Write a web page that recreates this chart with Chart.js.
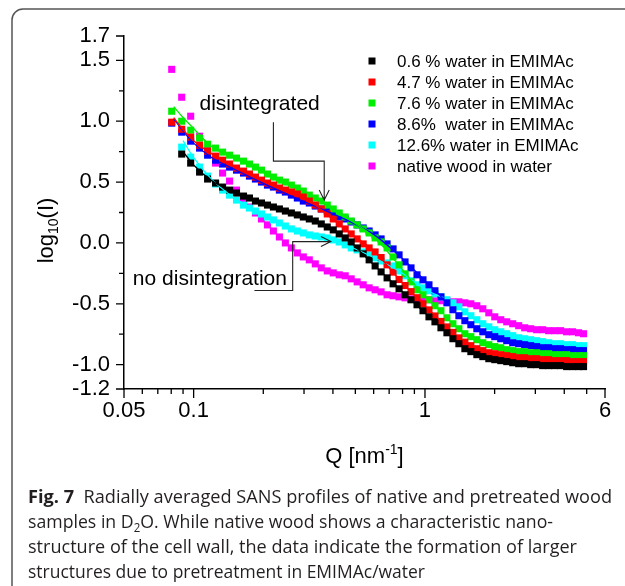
<!DOCTYPE html>
<html>
<head>
<meta charset="utf-8">
<script src="https://cdn.jsdelivr.net/npm/chart.js@4.4.0/dist/chart.umd.min.js"></script>
<style>
html,body{margin:0;padding:0;background:#fff;width:625px;height:586px;overflow:hidden}
#c{position:absolute;left:0;top:0}
</style>
</head>
<body>
<canvas id="c" width="625" height="586"></canvas>
<script>
// ---------------- data ----------------
const qValues = [0.0804, 0.0888, 0.0971, 0.1061, 0.1149, 0.1244, 0.1334, 0.1430, 0.1532, 0.1643,
  0.1743, 0.1850, 0.1964, 0.2085, 0.2212, 0.2348, 0.2492, 0.2645, 0.2807, 0.2979,
  0.3162, 0.3356, 0.3562, 0.3781, 0.4013, 0.4259, 0.4520, 0.4798, 0.5092, 0.5405,
  0.5736, 0.6088, 0.6462, 0.6858, 0.7279, 0.7726, 0.8200, 0.8703, 0.9237, 0.9803,
  1.0405, 1.1043, 1.1721, 1.2440, 1.3204, 1.4014, 1.4874, 1.5787, 1.6755, 1.7783,
  1.8874, 2.0033, 2.1262, 2.2567, 2.3951, 2.5421, 2.6981, 2.8637, 3.0394, 3.2259,
  3.4238, 3.6339, 3.8569, 4.0936, 4.3448, 4.6114, 4.8466];

const water06 = [null, 0.730, 0.656, 0.582, 0.525, 0.492, 0.459, 0.434, 0.410, 0.385,
  0.369, 0.344, 0.328, 0.311, 0.295, 0.279, 0.262, 0.246, 0.230, 0.213,
  0.197, 0.180, 0.156, 0.131, 0.107, 0.074, 0.041, 0.008, -0.041, -0.090,
  -0.139, -0.189, -0.238, -0.287, -0.336, -0.377, -0.426, -0.467, -0.508, -0.557,
  -0.607, -0.648, -0.697, -0.738, -0.787, -0.828, -0.869, -0.893, -0.918, -0.934,
  -0.951, -0.959, -0.967, -0.975, -0.984, -0.992, -0.992, -1.000, -1.000, -1.008,
  -1.008, -1.008, -1.008, -1.016, -1.016, -1.016, -1.016];

const water47 = [0.992, 0.934, 0.869, 0.803, 0.754, 0.713, 0.680, 0.648, 0.615, 0.590,
  0.566, 0.541, 0.516, 0.492, 0.475, 0.451, 0.434, 0.418, 0.402, 0.377,
  0.344, 0.311, 0.279, 0.238, 0.197, 0.156, 0.115, 0.074, 0.033, -0.008,
  -0.041, -0.074, -0.120, -0.180, -0.240, -0.300, -0.350, -0.400, -0.450, -0.500,
  -0.550, -0.600, -0.645, -0.690, -0.735, -0.780, -0.815, -0.844, -0.869, -0.885,
  -0.902, -0.910, -0.918, -0.926, -0.934, -0.943, -0.943, -0.951, -0.951, -0.959,
  -0.959, -0.967, -0.967, -0.967, -0.975, -0.975, -0.975];

const water76 = [1.082, 1.000, 0.926, 0.861, 0.811, 0.779, 0.746, 0.721, 0.697, 0.672,
  0.648, 0.623, 0.598, 0.566, 0.541, 0.516, 0.500, 0.475, 0.451, 0.426,
  0.393, 0.369, 0.344, 0.311, 0.279, 0.246, 0.213, 0.180, 0.148, 0.115,
  0.082, 0.041, 0.008, -0.041, -0.115, -0.180, -0.254, -0.320, -0.385, -0.426,
  -0.467, -0.516, -0.557, -0.615, -0.664, -0.705, -0.746, -0.770, -0.795, -0.820,
  -0.836, -0.852, -0.861, -0.877, -0.885, -0.893, -0.893, -0.902, -0.902, -0.910,
  -0.910, -0.918, -0.918, -0.918, -0.926, -0.926, -0.926];

const water86 = [0.984, 0.910, 0.836, 0.779, 0.721, 0.680, 0.648, 0.623, 0.598, 0.574,
  0.549, 0.525, 0.500, 0.475, 0.459, 0.434, 0.418, 0.393, 0.369, 0.344,
  0.328, 0.303, 0.279, 0.262, 0.238, 0.213, 0.197, 0.172, 0.148, 0.123,
  0.098, 0.066, 0.033, -0.008, -0.049, -0.098, -0.156, -0.205, -0.262, -0.303,
  -0.344, -0.393, -0.443, -0.492, -0.549, -0.598, -0.639, -0.672, -0.705, -0.730,
  -0.754, -0.770, -0.787, -0.803, -0.820, -0.828, -0.836, -0.844, -0.852, -0.861,
  -0.861, -0.869, -0.869, -0.877, -0.877, -0.885, -0.885];

const water126 = [null, 0.787, 0.705, 0.623, 0.549, 0.484, 0.434, 0.393, 0.352, 0.311,
  0.287, 0.262, 0.238, 0.213, 0.189, 0.164, 0.139, 0.115, 0.098, 0.082,
  0.066, 0.057, 0.049, 0.041, 0.025, 0.008, -0.016, -0.041, -0.057, -0.074,
  -0.098, -0.123, -0.148, -0.164, -0.189, -0.230, -0.270, -0.311, -0.344, -0.369,
  -0.393, -0.418, -0.443, -0.467, -0.492, -0.525, -0.566, -0.598, -0.631, -0.664,
  -0.689, -0.713, -0.730, -0.746, -0.762, -0.779, -0.787, -0.795, -0.803, -0.811,
  -0.820, -0.828, -0.828, -0.836, -0.836, -0.844, -0.844];

const nativeWood = [1.426, 1.197, 1.041, 0.877, 0.762, 0.656, 0.574, 0.508, 0.434, 0.361,
  0.295, 0.246, 0.197, 0.148, 0.098, 0.049, 0.000, -0.041, -0.082, -0.115,
  -0.139, -0.172, -0.205, -0.230, -0.246, -0.262, -0.270, -0.295, -0.320, -0.344,
  -0.369, -0.385, -0.402, -0.426, -0.434, -0.443, -0.451, -0.459, -0.467, -0.467,
  -0.467, -0.475, -0.475, -0.475, -0.484, -0.484, -0.492, -0.500, -0.516, -0.541,
  -0.574, -0.607, -0.631, -0.648, -0.664, -0.680, -0.697, -0.705, -0.713, -0.713,
  -0.721, -0.721, -0.721, -0.730, -0.730, -0.738, -0.746];

// model fit curves (thin lines)
const fitQ = [0.082, 0.09, 0.1, 0.12, 0.15, 0.2, 0.3, 0.45, 0.6, 0.8, 1.0, 1.2];
const fit06  = [null, 0.75, 0.64, 0.51, 0.42, 0.32, 0.21, 0.045, -0.18, -0.40, -0.575, -0.71];
const fit47  = [1.03, 0.93, 0.84, 0.73, 0.625, 0.51, 0.375, 0.115, -0.066, -0.33, -0.517, -0.66];
const fit76  = [1.12, 1.03, 0.94, 0.79, 0.70, 0.59, 0.425, 0.215, 0.05, -0.22, -0.44, -0.575];
const fit86  = [1.02, 0.92, 0.82, 0.70, 0.605, 0.49, 0.34, 0.195, 0.07, -0.13, -0.31, -0.46];
const fit126 = [null, 0.84, 0.70, 0.52, 0.37, 0.23, 0.08, -0.015, -0.12, -0.25, -0.38, -0.45];

const seriesLabels = ['0.6 % water in EMIMAc', '4.7 % water in EMIMAc', '7.6 % water in EMIMAc',
  '8.6%  water in EMIMAc', '12.6% water in EMIMAc', 'native wood in water'];
const seriesColors = ['#000000', '#ff0000', '#00ee00', '#0000ff', '#00ffff', '#ff00ff'];
const seriesValues = [water06, water47, water76, water86, water126, nativeWood];
const fitValues = [fit06, fit47, fit76, fit86, fit126, null];

// axes
const xTickValues = [0.05, 0.06, 0.07, 0.08, 0.09, 0.1, 0.2, 0.3, 0.4, 0.5, 0.6, 0.7, 0.8, 0.9, 1, 2, 3, 4, 5, 6];
const xLabelValues = [0.05, 0.1, 1, 6];
const xLabelTexts = ['0.05', '0.1', '1', '6'];
const yTickValues = [-1.2, -1.0, -0.75, -0.5, -0.25, 0, 0.25, 0.5, 0.75, 1.0, 1.25, 1.5, 1.7];
const yLabelValues = [-1.2, -1.0, -0.5, 0, 0.5, 1.0, 1.5, 1.7];
const yLabelTexts = ['-1.2', '-1.0', '-0.5', '0.0', '0.5', '1.0', '1.5', '1.7'];

// annotations (data coordinates)
const annotations = [
  { text: 'disintegrated', q: 0.106, v: 1.139,
    path: [[0.2212, 0.992], [0.2212, 0.672], [0.3668, 0.672], [0.3668, 0.352]], head: 'down' },
  { text: 'no disintegration', q: 0.0546, v: -0.295,
    path: [[0.1831, -0.391], [0.268, -0.391], [0.268, 0.011], [0.392, 0.011]], head: 'right' }
];

// caption
const captionLines = [
  [{ t: 'Fig. 7', b: true }, { t: '  Radially averaged SANS profiles of native and pretreated wood' }],
  [{ t: 'samples in D' }, { t: '2', sub: true }, { t: 'O. While native wood shows a characteristic nano-' }],
  [{ t: 'structure of the cell wall, the data indicate the formation of larger' }],
  [{ t: 'structures due to pretreatment in EMIMAc/water' }]
];
const captionWidths = [584, 525, 549, 397];
const captionBaselines = [503, 528, 553, 578];

// ---------------- chart ----------------
const FONT = '"Liberation Sans", Arial, sans-serif';
const CAPFONT = '"Open Sans", "Noto Sans", sans-serif';

const datasets = [];
seriesValues.forEach((vals, s) => {
  datasets.push({
    label: seriesLabels[s],
    data: qValues.map((q, i) => ({ x: q, y: vals[i] })).filter(p => p.y !== null),
    showLine: false,
    pointStyle: 'rect',
    pointRadius: 5,
    pointHoverRadius: 5,
    borderWidth: 0,
    backgroundColor: seriesColors[s],
    borderColor: seriesColors[s],
    order: 2
  });
});
fitValues.forEach((vals, s) => {
  if (!vals) return;
  datasets.push({
    label: 'fit ' + seriesLabels[s],
    isFit: true,
    data: fitQ.map((q, i) => ({ x: q, y: vals[i] })).filter(p => p.y !== null),
    showLine: true,
    pointRadius: 0,
    borderWidth: 1.3,
    borderColor: seriesColors[s],
    backgroundColor: seriesColors[s],
    cubicInterpolationMode: 'monotone',
    fill: false,
    order: 1
  });
});

function near(a, b) { return Math.abs(a - b) < 1e-6; }

const decor = {
  id: 'decor',
  afterDraw(chart) {
    const ctx = chart.ctx;
    const xs = chart.scales.x, ys = chart.scales.y;
    ctx.save();

    // frame
    ctx.strokeStyle = '#555';
    ctx.lineWidth = 1.5;
    ctx.beginPath();
    ctx.moveTo(12, 586);
    ctx.lineTo(12, 20);
    ctx.arcTo(12, 9, 23, 9, 11);
    ctx.lineTo(625, 9);
    ctx.stroke();

    // tick marks
    ctx.strokeStyle = '#000';
    ctx.lineWidth = 1.3;
    ctx.beginPath();
    xTickValues.forEach(v => {
      const px = xs.getPixelForValue(v);
      const major = xLabelValues.some(m => near(m, v));
      ctx.moveTo(px, ys.bottom);
      ctx.lineTo(px, ys.bottom + (major ? 9 : 5));
    });
    yTickValues.forEach(v => {
      const py = ys.getPixelForValue(v);
      const major = yLabelValues.some(m => near(m, v));
      ctx.moveTo(xs.left, py);
      ctx.lineTo(xs.left - (major ? 8 : 5), py);
    });
    ctx.stroke();

    // axis titles
    ctx.fillStyle = '#000';
    ctx.textBaseline = 'alphabetic';
    ctx.save();
    ctx.translate(53, (ys.top + ys.bottom) / 2 + 18);
    ctx.rotate(-Math.PI / 2);
    ctx.font = '22px ' + FONT;
    const wLog = ctx.measureText('log').width;
    const wI = ctx.measureText('(I)').width;
    ctx.font = '14px ' + FONT;
    const w10 = ctx.measureText('10').width;
    let x0 = -(wLog + w10 + wI) / 2;
    ctx.font = '22px ' + FONT;
    ctx.fillText('log', x0, 0);
    ctx.font = '14px ' + FONT;
    ctx.fillText('10', x0 + wLog, 5);
    ctx.font = '22px ' + FONT;
    ctx.fillText('(I)', x0 + wLog + w10, 0);
    ctx.restore();

    ctx.font = '22px ' + FONT;
    const wQ = ctx.measureText('Q [nm').width;
    const wB = ctx.measureText(']').width;
    ctx.font = '14px ' + FONT;
    const wE = ctx.measureText('-1').width;
    let xt = (xs.left + xs.right) / 2 - (wQ + wE + wB) / 2;
    const yt = 463;
    ctx.font = '22px ' + FONT;
    ctx.fillText('Q [nm', xt, yt);
    ctx.font = '14px ' + FONT;
    ctx.fillText('-1', xt + wQ, yt - 9);
    ctx.font = '22px ' + FONT;
    ctx.fillText(']', xt + wQ + wE, yt);

    // legend
    ctx.font = '17px ' + FONT;
    ctx.textBaseline = 'middle';
    let li = 0;
    chart.data.datasets.forEach(ds => {
      if (ds.isFit) return;
      const ly = 61 + 21 * li;
      ctx.fillStyle = ds.backgroundColor;
      ctx.fillRect(372 - 3.5, ly - 3.5, 7, 7);
      ctx.fillStyle = '#000';
      ctx.fillText(ds.label, 397, ly + 1);
      li++;
    });

    // annotations
    ctx.strokeStyle = '#222';
    ctx.lineWidth = 1.1;
    ctx.font = '21px ' + FONT;
    ctx.textBaseline = 'middle';
    annotations.forEach(a => {
      ctx.fillStyle = '#000';
      ctx.fillText(a.text, xs.getPixelForValue(a.q), ys.getPixelForValue(a.v));
      ctx.beginPath();
      a.path.forEach((p, i) => {
        const px = xs.getPixelForValue(p[0]), py = ys.getPixelForValue(p[1]);
        if (i === 0) ctx.moveTo(px, py); else ctx.lineTo(px, py);
      });
      const last = a.path[a.path.length - 1];
      const tx = xs.getPixelForValue(last[0]), ty = ys.getPixelForValue(last[1]);
      if (a.head === 'down') {
        ctx.moveTo(tx - 5, ty - 10); ctx.lineTo(tx, ty); ctx.lineTo(tx + 5, ty - 10);
      } else {
        ctx.moveTo(tx - 10, ty - 5); ctx.lineTo(tx, ty); ctx.lineTo(tx - 10, ty + 5);
      }
      ctx.stroke();
    });

    // caption
    ctx.textBaseline = 'alphabetic';
    ctx.fillStyle = '#231f20';
    captionLines.forEach((segs, li2) => {
      let total = 0;
      const fonts = segs.map(s => (s.b ? 'bold ' : '') + (s.sub ? '12px ' : '18.5px ') + CAPFONT);
      segs.forEach((s, k) => { ctx.font = fonts[k]; total += ctx.measureText(s.t).width; });
      const sx = captionWidths[li2] / total;
      ctx.save();
      ctx.translate(28, captionBaselines[li2]);
      ctx.scale(sx, 1);
      let cx = 0;
      segs.forEach((s, k) => {
        ctx.font = fonts[k];
        ctx.fillText(s.t, cx, s.sub ? 4 : 0);
        cx += ctx.measureText(s.t).width;
      });
      ctx.restore();
    });

    ctx.restore();
  }
};

new Chart(document.getElementById('c'), {
  type: 'scatter',
  data: { datasets },
  options: {
    responsive: false,
    animation: false,
    events: [],
    layout: { padding: { left: 0, top: 36, right: 20, bottom: 137 } },
    plugins: { legend: { display: false }, tooltip: { enabled: false }, title: { display: false } },
    scales: {
      x: {
        type: 'logarithmic',
        min: 0.05, max: 6,
        afterBuildTicks: (scale) => { scale.ticks = xTickValues.map(v => ({ value: v })); },
        afterFit: (scale) => { scale.height = 60; },
        grid: { display: false, drawTicks: false },
        border: { display: true, color: '#000', width: 1.5 },
        ticks: {
          autoSkip: false, maxRotation: 0, minRotation: 0, padding: 9,
          color: '#000', font: { family: FONT, size: 22 },
          callback: (value) => {
            const k = xLabelValues.findIndex(m => near(m, value));
            return k >= 0 ? xLabelTexts[k] : '';
          }
        }
      },
      y: {
        type: 'linear',
        min: -1.2, max: 1.7,
        afterBuildTicks: (scale) => { scale.ticks = yTickValues.map(v => ({ value: v })); },
        afterFit: (scale) => { scale.width = 124; },
        grid: { display: false, drawTicks: false },
        border: { display: true, color: '#000', width: 1.5 },
        ticks: {
          autoSkip: false, padding: 14,
          color: '#000', font: { family: FONT, size: 22 },
          callback: (value) => {
            const k = yLabelValues.findIndex(m => near(m, value));
            return k >= 0 ? yLabelTexts[k] : '';
          }
        }
      }
    }
  },
  plugins: [decor]
});
</script>
</body>
</html>
